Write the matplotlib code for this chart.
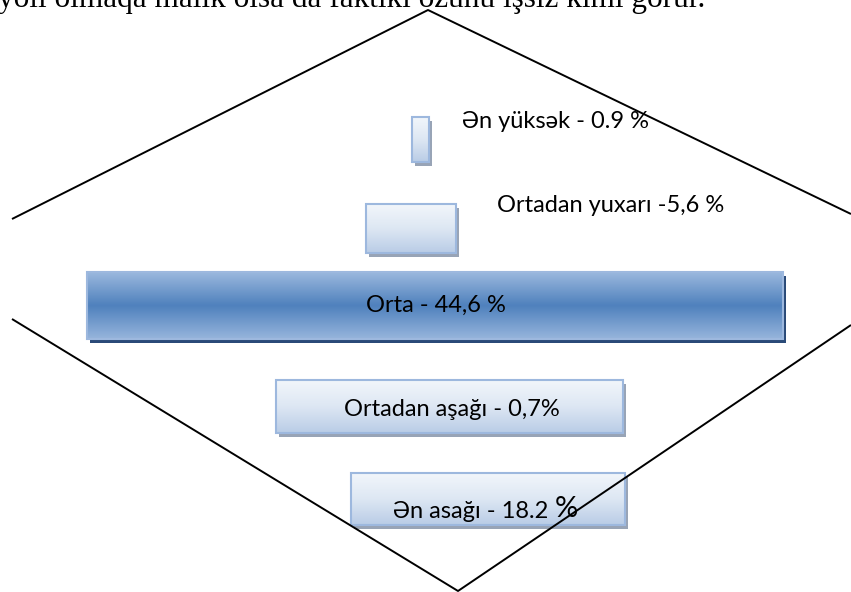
import numpy as np
import matplotlib
matplotlib.use('Agg')
import matplotlib.pyplot as plt
from matplotlib.colors import LinearSegmentedColormap
from matplotlib.patches import Rectangle

# Categories and their shares (as printed on the boxes)
labels = ['Ən yüksək', 'Ortadan yuxarı', 'Orta', 'Ortadan aşağı', 'Ən asağı']
values = ['0.9 %', '5,6 %', '44,6 %', '0,7%', '18.2 %']

# Box layout in pixel coordinates (left, width, center y, height)
box_left = [412, 366, 87, 276, 351]
box_width = [17, 90, 696, 347, 274]
box_y = [139.5, 228.5, 305.5, 406.5, 499]
box_height = [45, 49, 67, 53, 52]

fig = plt.figure(figsize=(8.51, 5.92), dpi=100)
ax = fig.add_axes([0, 0, 1, 1])
ax.set_xlim(0, 851)
ax.set_ylim(592, 0)
ax.axis('off')

light = LinearSegmentedColormap.from_list('light', ['#f2f6fb', '#dde7f3', '#b9cce6'])
dark = LinearSegmentedColormap.from_list('dark', ['#9bb8de', '#4f81bd', '#97b5dc'])

# shadows
for i in range(len(labels)):
    big = i == 2
    ax.add_patch(Rectangle((box_left[i] + 3, box_y[i] - box_height[i] / 2 + 4),
                           box_width[i], box_height[i],
                           facecolor='#2a4a78' if big else '#98a4b6',
                           edgecolor='none', zorder=1))

bars = ax.barh(box_y, box_width, left=box_left, height=box_height,
               color='none', edgecolor='#9db8de', linewidth=1.5, zorder=3)

grad = np.linspace(0, 1, 256).reshape(-1, 1)
for i, bar in enumerate(bars):
    x0, y0 = bar.get_x(), bar.get_y()
    w, h = bar.get_width(), bar.get_height()
    im = ax.imshow(grad, cmap=dark if i == 2 else light, aspect='auto',
                   extent=(x0, x0 + w, y0 + h, y0), zorder=2,
                   interpolation='bicubic')
    clip = Rectangle((x0, y0), w, h, transform=ax.transData)
    im.set_clip_path(clip)

# text
fam = ['Lato', 'DejaVu Sans']
lfont = dict(family=fam, fontsize=17, color='black', zorder=5)
ax.text(462, 121, f'{labels[0]} - {values[0]}', ha='left', va='center', **lfont)
ax.text(497, 206, f'{labels[1]} -{values[1]}', ha='left', va='center', **lfont)
ax.text(436, 305, f'{labels[2]} - {values[2]}', ha='center', va='center', **lfont)
ax.text(452, 410, f'{labels[3]} - {values[3]}', ha='center', va='center', **lfont)
ax.text(393, 512, f'{labels[4]} - 18.2', ha='left', va='center', **lfont)
ax.text(555, 509, '%', ha='left', va='center', family=fam, fontsize=21, zorder=5)

# diamond outline
lk = dict(color='black', linewidth=1.4, zorder=6, solid_capstyle='butt')
ax.plot([12, 428, 851], [219, 10, 214], **lk)
ax.plot([12, 458, 851], [319, 591, 325], **lk)

# sentence from the page above, cut by the top edge as in the source
ax.text(-2, 7, 'yoli olmaqa malik olsa da faktiki özünü işsiz kimi görür.',
        family='Liberation Serif', fontsize=22.5, ha='left', va='baseline',
        color='black', zorder=7)

fig.savefig('out.png', dpi=100, facecolor='white')
